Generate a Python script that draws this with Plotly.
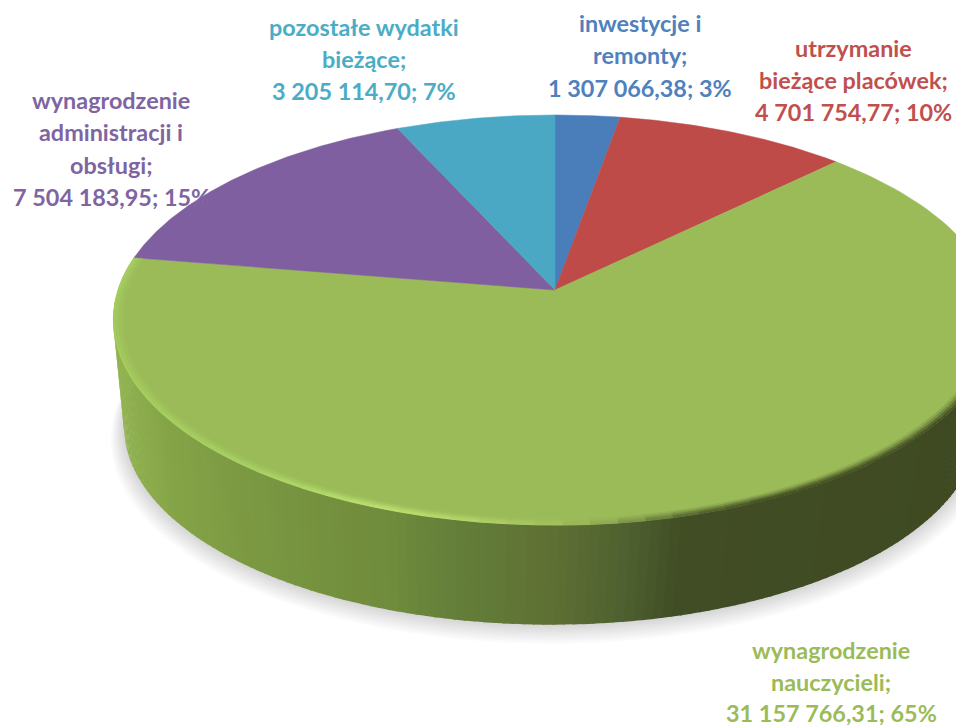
import numpy as np
import plotly.graph_objects as go

categories = ["inwestycje i remonty", "utrzymanie bieżące placówek", "wynagrodzenie nauczycieli",
              "wynagrodzenie administracji i obsługi", "pozostałe wydatki bieżące"]
values = [1307066.38, 4701754.77, 31157766.31, 7504183.95, 3205114.70]
percent_labels = ["3%", "10%", "65%", "15%", "7%"]
value_labels = ["1 307 066,38", "4 701 754,77", "31 157 766,31", "7 504 183,95", "3 205 114,70"]
slice_colors = ["#4a7ebb", "#be4b48", "#9bbb59", "#7f5f9f", "#4aa8c5"]
text_colors = ["#4f81bd", "#c0504d", "#9bbb59", "#8064a2", "#4bacc6"]
label_lines = [
    ["inwestycje i", "remonty;"],
    ["utrzymanie", "bieżące placówek;"],
    ["wynagrodzenie", "nauczycieli;"],
    ["wynagrodzenie", "administracji i", "obsługi;"],
    ["pozostałe wydatki", "bieżące;"],
]
label_x = [640, 853, 831, 111, 364]
label_y = [[23, 55, 88], [48, 80, 112], [650, 682, 713], [100, 132, 165, 197], [27, 59, 91]]

# projection of the pie disc on the page
CX, CY, RX, RY, K = 555.0, 290.0, 437.0, 200.6, -0.146
WALL_H, WALL_S, WALL_DX = 108.8, 0.967, -4.0


def project(theta, scale=1.0, dy=0.0, dx=0.0):
    px, py = scale * np.sin(theta), -scale * np.cos(theta)
    d = 1 + K * py
    return CX + dx + RX * px / d, CY + dy + RY * py / d


def hex_rgb(c):
    return np.array([int(c[i:i + 2], 16) for i in (1, 3, 5)], float)


def ramp(stops, x):
    xs = [s[0] for s in stops]
    rgb = np.array([hex_rgb(s[1]) for s in stops])
    return np.array([np.interp(x, xs, rgb[:, i]) for i in range(3)])


def css(c):
    return "rgb(%d,%d,%d)" % tuple(np.clip(np.round(c), 0, 255))


wall_stops = [(113, "#93b552"), (170, "#85a447"), (250, "#7b9842"), (390, "#6f8b3c"), (450, "#64803a"),
              (550, "#5f7034"), (620, "#4f6230"), (680, "#414d24"), (956, "#3f4a22")]
rim_stops = [(113, "#a6cf5e"), (250, "#a8d264"), (380, "#bde272"), (470, "#b3d468"), (560, "#a0c05c"),
             (610, "#8da850"), (690, "#566430"), (760, "#414b22"), (956, "#414b22")]

fig = go.Figure()


def add_poly(x, y, fill, line=None, width=0):
    fig.add_trace(go.Scatter(x=x, y=y, mode="lines", fill="toself", fillcolor=fill,
                             line=dict(color=line or fill, width=width), hoverinfo="skip", showlegend=False))


# soft ground shadow
full = np.linspace(0, 2 * np.pi, 240)
for i in range(10, 0, -1):
    sx, sy = project(full, WALL_S + 0.003 * i, WALL_H + 1.1 * i, WALL_DX)
    add_poly(sx, sy, "rgba(0,0,0,0.014)")

# side wall of the large slice
total = sum(values)
fractions = np.cumsum([0] + values) / total * 2 * np.pi
start, end = np.radians(82), fractions[3] - 0.02
edges = np.linspace(start, end, 170)
for a, b in zip(edges[:-1], edges[1:]):
    t = np.array([a, b + 0.004])
    x0, y0 = project(t)
    x1, y1 = project(t[::-1], WALL_S, WALL_H, WALL_DX)
    col = css(ramp(wall_stops, (x0.mean() + x1.mean()) / 2))
    add_poly(np.r_[x0, x1], np.r_[y0, y1], col)

# top faces
for i in range(len(values)):
    t = np.linspace(fractions[i], fractions[i + 1], 160)
    x, y = project(t)
    add_poly(np.r_[CX, x, CX], np.r_[CY, y, CY], slice_colors[i], slice_colors[i], 0.5)

# bevel on the rim of the large slice
base = hex_rgb(slice_colors[2])
layers = [(0.980, 0.15), (0.986, 0.40), (0.992, 0.70), (0.998, 0.92)]
seg = np.linspace(np.radians(82), fractions[3], 64)
for scale, mix in layers:
    for a, b in zip(seg[:-1], seg[1:]):
        t = np.linspace(a, b, 4)
        x, y = project(t, scale)
        c = base + (ramp(rim_stops, x.mean()) - base) * mix
        fig.add_trace(go.Scatter(x=x, y=y, mode="lines", line=dict(color=css(c), width=2.4),
                                 hoverinfo="skip", showlegend=False))

# labels
for i in range(len(values)):
    lines = label_lines[i] + ["%s; %s" % (value_labels[i], percent_labels[i])]
    for text, ypos in zip(lines, label_y[i]):
        fig.add_annotation(x=label_x[i], y=ypos, text=text, showarrow=False, xanchor="center", yanchor="middle",
                           font=dict(family="Lato", size=23.4, color=text_colors[i], weight="bold"))

fig.update_layout(width=956, height=726, margin=dict(l=0, r=0, t=0, b=0), paper_bgcolor="white",
                  plot_bgcolor="white", showlegend=False,
                  xaxis=dict(range=[0, 956], visible=False, fixedrange=True),
                  yaxis=dict(range=[726, 0], visible=False, fixedrange=True))
fig.write_html("out.html", config=dict(displayModeBar=False),
               post_script="document.body.style.margin='0';document.body.style.overflow='hidden';")
